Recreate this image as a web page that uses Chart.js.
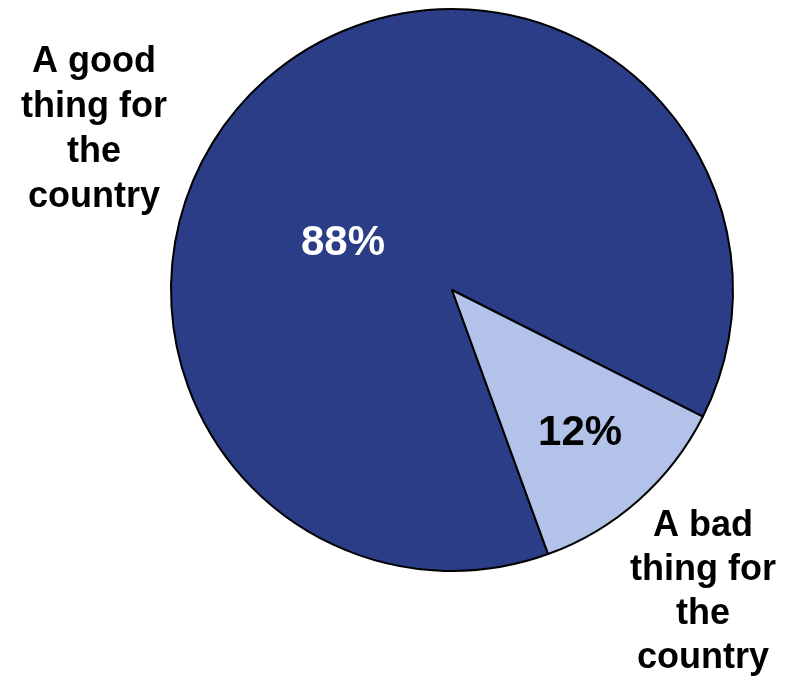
<!DOCTYPE html>
<html>
<head>
<meta charset="utf-8">
<script src="https://cdn.jsdelivr.net/npm/chart.js@4"></script>
<style>
  html, body { margin: 0; padding: 0; background: #ffffff; }
  #wrap { position: relative; width: 788px; height: 676px; }
</style>
</head>
<body>
<div id="wrap"><canvas id="pie__chart"></canvas></div>
<script>
var labels = ["A good thing for the country", "A bad thing for the country"];
var values = [88, 12];
var valueLabels = ["88%", "12%"];
var colors = ["#2B3D87", "#B3C2E8"];
var labelLines = [["A good", "thing for", "the", "country"], ["A bad", "thing for", "the", "country"]];

var FONT = "'Liberation Sans', Arial, sans-serif";

var textPlugin = {
    id: 'textPlugin',
    afterDatasetsDraw: function(chart) {
        var ctx = chart.ctx;
        var arcs = chart.getDatasetMeta(0).data;
        var cx = arcs[0].x, cy = arcs[0].y, r = arcs[0].outerRadius;
        ctx.save();
        ctx.textAlign = 'center';
        ctx.textBaseline = 'alphabetic';

        // percentages
        ctx.font = 'bold 42px ' + FONT;
        ctx.fillStyle = '#ffffff';
        ctx.fillText(valueLabels[0], cx - 0.388 * r, cy - 0.125 * r);
        var a = arcs[1];
        var mid = (a.startAngle + a.endAngle) / 2;
        ctx.fillStyle = '#000000';
        ctx.fillText(valueLabels[1], cx + Math.cos(mid) * 0.66 * r + 5, cy + Math.sin(mid) * 0.66 * r + 16);

        // outside labels
        ctx.font = 'bold 36px ' + FONT;
        ctx.fillStyle = '#000000';
        labelLines[0].forEach(function(t, i) { ctx.fillText(t, 94, 72 + i * 45); });
        labelLines[1].forEach(function(t, i) { ctx.fillText(t, 703, 536 + i * 44); });
        ctx.restore();
    }
};

var ctxPie = document.getElementById("pie__chart");
new Chart(ctxPie, {
    type: 'pie',
    data: {
        labels: labels,
        datasets: [{
            data: values,
            backgroundColor: colors,
            borderColor: '#000000',
            borderWidth: 2
        }]
    },
    options: {
        responsive: true,
        maintainAspectRatio: false,
        animation: false,
        rotation: 160,
        layout: { padding: { left: 170, right: 54, top: 8, bottom: 104 } },
        plugins: {
            legend: { display: false },
            tooltip: { enabled: false }
        }
    },
    plugins: [textPlugin]
});
</script>
</body>
</html>
